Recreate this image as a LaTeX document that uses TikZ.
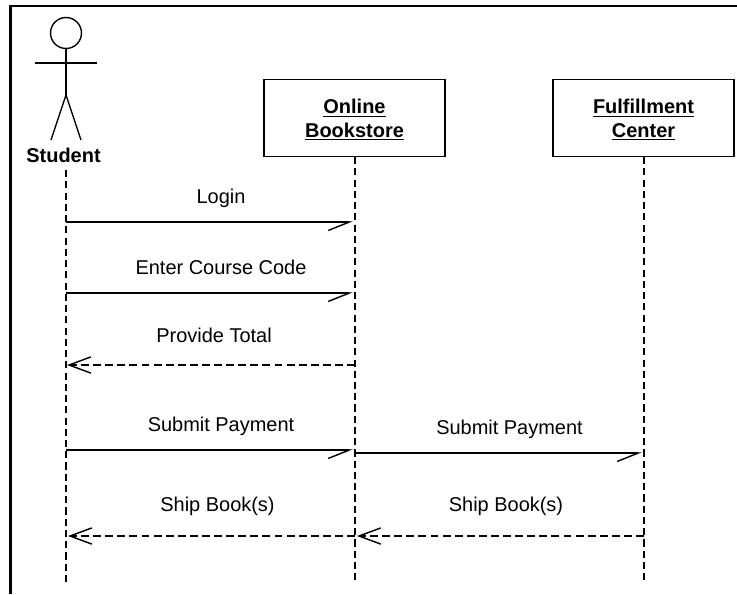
\documentclass[tikz,border=0pt]{standalone}
\usepackage{fontspec}
\setmainfont{Liberation Sans}
\usetikzlibrary{arrows.meta}
\tikzset{
	lifeline/.style={line width=1pt, dash pattern=on 5pt off 3pt},
	msgcall/.style={line width=1pt, -{Straight Barb[harpoon, swap, length=15pt, width=12pt]}},
	msgreply/.style={line width=1pt, dash pattern=on 5.6pt off 3pt, -{Straight Barb[length=15.5pt, width=11.5pt]}},
	msgtext/.style={font=\fontsize{14.2}{17}\selectfont},
	objbox/.style={draw, line width=1.1pt, minimum width=129pt, minimum height=55pt, align=center, font=\fontsize{14.2}{17}\selectfont\bfseries}
}

\begin{document}
\begin{tikzpicture}[x=0.025cm, y=-0.025cm]
		%%%%% START %%%%%
		\useasboundingbox (0, 0) rectangle (737, 594);
		
		\draw[line width=2pt] (10.5, 594) -- (10.5, 6) -- (737, 6);
		
		% the actor
		\draw[line width=1pt] (66, 33) circle (15.5);
		\draw[line width=1pt] (66, 48.5) -- (66, 95);
		\draw[line width=1pt] (35, 63) -- (97, 63);
		\draw[line width=1pt] (51, 140) -- (66, 95) -- (81, 140);
		\node[font=\fontsize{14.2}{17}\selectfont\bfseries] (student) at (63.5, 155) {Student};
		
		\node[objbox] (bookstore) at (354.5, 118) {\rule{0pt}{13pt}\underline{Online}\\\underline{Bookstore}};
		\node[objbox] (center) at (643.5, 118) {\rule{0pt}{13pt}\underline{Fulfillment}\\\underline{Center}};
		
		\coordinate (studenttop) at (66, 170);
		\coordinate (studentend) at (66, 582);
		\coordinate (bookstoreend) at (355, 582);
		\coordinate (centerend) at (644, 582);
		
		\draw[lifeline] (studenttop) -- (studentend);
		\draw[lifeline] (355, 157) -- (bookstoreend);
		\draw[lifeline] (644, 157) -- (centerend);
		
		% points on the lifelines
		\coordinate (s1) at (66, 222);
		\coordinate (b1) at (353, 222);
		\coordinate (s2) at (66, 293);
		\coordinate (b2) at (353, 293);
		\coordinate (b3) at (355, 365);
		\coordinate (s3) at (67, 365);
		\coordinate (s4) at (66, 450);
		\coordinate (b4) at (353, 450);
		\coordinate (b5) at (355, 453);
		\coordinate (c5) at (642, 453);
		\coordinate (c6) at (644, 536);
		\coordinate (b6) at (357, 536);
		\coordinate (b7) at (355, 536);
		\coordinate (s7) at (68, 536);
		
		\draw[msgcall] (s1) -- (b1);
		\draw[msgcall] (s2) -- (b2);
		\draw[msgreply] (b3) -- (s3);
		\draw[msgcall] (s4) -- (b4);
		\draw[msgcall] (b5) -- (c5);
		\draw[msgreply] (c6) -- (b6);
		\draw[msgreply] (b7) -- (s7);
		
		\node[msgtext] (login) at (221, 198) {Login};
		\node[msgtext] (course) at (221, 267.5) {Enter Course Code};
		\node[msgtext] (total) at (214, 335.5) {Provide Total};
		\node[msgtext] (pay) at (221, 426.5) {Submit Payment};
		\node[msgtext] (forward) at (509.5, 429.5) {Submit Payment};
		\node[msgtext] (ship) at (217.5, 506.5) {Ship Book(s)};
		\node[msgtext] (shipped) at (506, 506.5) {Ship Book(s)};
		
		%%%%% END %%%%%
	\end{tikzpicture}
\end{document}
